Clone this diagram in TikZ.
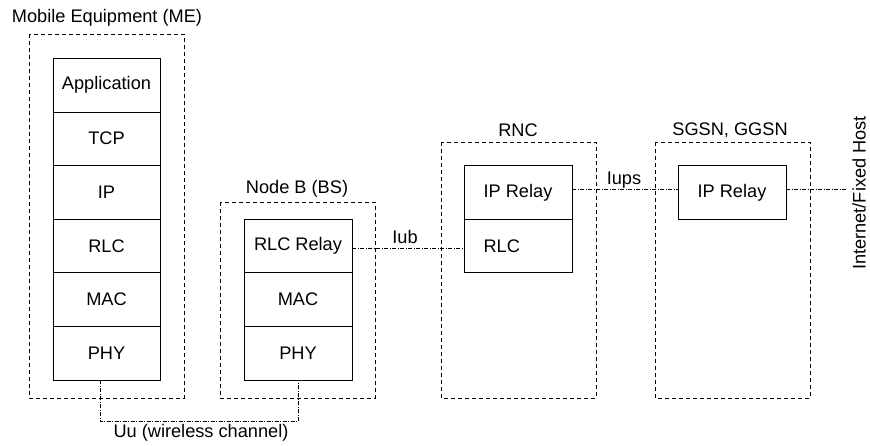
\documentclass[tikz,border=0pt]{standalone}
\usepackage{fontspec}
\setmainfont{Liberation Sans}
\begin{document}
\begin{tikzpicture}[x=1pt,y=-1pt,
  every node/.style={font=\fontsize{18.2}{21}\selectfont, inner sep=0pt},
  layer/.style={draw, line width=0.8pt, minimum width=107pt, minimum height=53.6pt},
  group/.style={draw, dashed, dash pattern=on 4pt off 3pt, line width=0.8pt},
  link/.style={line width=0.8pt, dash pattern=on 4pt off 1.5pt on 1pt off 1.5pt},
  title/.style={anchor=center}]
\useasboundingbox (0,0) rectangle (870,445);

% group boxes
\draw[group] (29,34) rectangle (184,398);
\draw[group] (220,202) rectangle (375,398);
\draw[group] (441,142) rectangle (596,398);
\draw[group] (655,142) rectangle (810,398);

% titles
\node[title] (tme) at (107,18) {Mobile Equipment (ME)};
\node[title] (tnb) at (297,189) {Node B (BS)};
\node[title] (trnc) at (518,130) {RNC};
\node[title] (tsg) at (730,130) {SGSN, GGSN};

% ME stack
\node[layer] (meapp) at (106.5,85.1) {Application};
\node[layer] (metcp) at (106.5,138.7) {TCP};
\node[layer] (meip)  at (106.5,192.3) {IP};
\node[layer] (merlc) at (106.5,245.9) {RLC};
\node[layer] (memac) at (106.5,299.5) {MAC};
\node[layer] (mephy) at (106.5,353.1) {PHY};

% Node B stack
\node[layer, minimum width=108pt] (nbrlc) at (298,245.9) {RLC Relay};
\node[layer, minimum width=108pt] (nbmac) at (298,299.5) {MAC};
\node[layer, minimum width=108pt] (nbphy) at (298,353.1) {PHY};

% RNC stack
\node[layer, minimum width=108pt] (rncip)  at (518,192.3) {IP Relay};
\node[layer, minimum width=108pt] (rncrlc) at (518,245.9) {\makebox[69pt][l]{RLC}};

% SGSN
\node[layer, minimum width=108pt] (sgip) at (732,192.3) {IP Relay};

% links
\draw[link] ([xshift=-6.5pt]mephy.south) -- ++(0,41.5) -| (nbphy.south);
\node (uu) at (201,433) {Uu (wireless channel)};

\draw[link] ([yshift=-2pt]nbrlc.east) -- ([yshift=-2pt]rncrlc.west);
\node (iub) at (405,237) {Iub};

\draw[link] ([yshift=3pt]rncip.east) -- ([yshift=3pt]sgip.west);
\node (iups) at (624,180) {Iups};

\coordinate (inet) at (847,189.3);
\draw[link] ([yshift=3pt]sgip.east) -- (inet);
\node[rotate=90, anchor=base] (host) at (865.5,193) {Internet/Fixed Host};
\end{tikzpicture}
\end{document}
